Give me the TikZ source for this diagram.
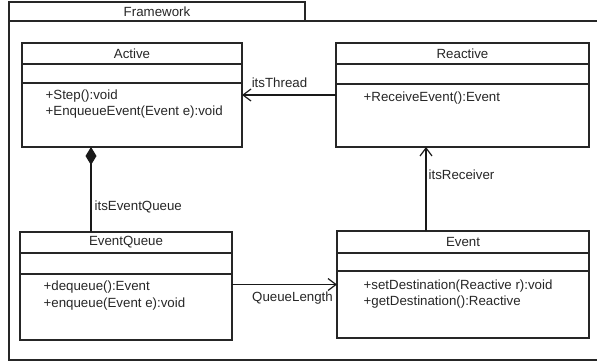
\documentclass[tikz,border=0pt]{standalone}
\usepackage{fontspec}
\setmainfont{Liberation Sans}
\usetikzlibrary{arrows.meta}
\begin{document}
\begin{tikzpicture}[x=1pt,y=-1pt,
  line width=1.3pt,
  cls/.style={draw=black!85, line width=1.4pt, rectangle, inner sep=0pt, outer sep=0pt, anchor=north west},
  lbl/.style={font=\fontsize{13.3}{16}\selectfont, text=black!85, inner sep=0pt},
  meth/.style={lbl, anchor=west},
  assoc/.style={draw=black!90, line width=1.4pt, -{Straight Barb[length=8pt,width=12pt,line width=1.2pt]}},
  comp/.style={draw=black!90, line width=1.4pt, {Diamond[length=18pt,width=11pt]}-}
]
\useasboundingbox (0,0) rectangle (597,364);
% framework package
\node[cls, minimum width=296pt, minimum height=19pt] (tab) at (9,2) {};
\node[lbl] (tabname) at (tab.center) {Framework};
\coordinate (ftr) at (598,21);
\coordinate (fbr) at (598,360);
\draw[draw=black!85, line width=1.4pt] (ftr) -- (tab.south west) -- (9,360) -- (fbr);
% Active
\node[cls, minimum width=220pt, minimum height=104pt] (active) at (22,43) {};
\draw[draw=black!85, line width=1.4pt] ([yshift=-21pt]active.north west) -- ([yshift=-21pt]active.north east);
\draw[draw=black!85, line width=1.4pt] ([yshift=-40pt]active.north west) -- ([yshift=-40pt]active.north east);
\node[lbl] (activename) at ([yshift=-10.5pt]active.north) {Active};
\node[meth] (activem1) at (45,96) {+Step():void};
\node[meth] (activem2) at (45,112) {+EnqueueEvent(Event e):void};
% Reactive
\node[cls, minimum width=253pt, minimum height=104pt] (reactive) at (336,43) {};
\draw[draw=black!85, line width=1.4pt] ([yshift=-21pt]reactive.north west) -- ([yshift=-21pt]reactive.north east);
\draw[draw=black!85, line width=1.4pt] ([yshift=-41pt]reactive.north west) -- ([yshift=-41pt]reactive.north east);
\node[lbl] (reactivename) at ([yshift=-10.5pt]reactive.north) {Reactive};
\node[meth] (reactivem1) at (363,98) {+ReceiveEvent():Event};
% EventQueue
\node[cls, minimum width=212pt, minimum height=108pt] (eventqueue) at (20,232) {};
\draw[draw=black!85, line width=1.4pt] ([yshift=-21pt]eventqueue.north west) -- ([yshift=-21pt]eventqueue.north east);
\draw[draw=black!85, line width=1.4pt] ([yshift=-42pt]eventqueue.north west) -- ([yshift=-42pt]eventqueue.north east);
\node[lbl] (eventqueuename) at ([yshift=-10.5pt]eventqueue.north) {EventQueue};
\node[meth] (eqm1) at (43,287) {+dequeue():Event};
\node[meth] (eqm2) at (43,304) {+enqueue(Event e):void};
% Event
\node[cls, minimum width=252pt, minimum height=107pt] (event) at (337,231) {};
\draw[draw=black!85, line width=1.4pt] ([yshift=-22pt]event.north west) -- ([yshift=-22pt]event.north east);
\draw[draw=black!85, line width=1.4pt] ([yshift=-40pt]event.north west) -- ([yshift=-40pt]event.north east);
\node[lbl] (eventname) at ([yshift=-11pt]event.north) {Event};
\node[meth] (evm1) at (363,286) {+setDestination(Reactive r):void};
\node[meth] (evm2) at (363,302) {+getDestination():Reactive};
% connectors
\draw[assoc] (reactive.west) -- (active.east);
\node[lbl] (itsthread) at (279.5,83) {itsThread};
\draw[assoc] (eventqueue.east |- event.west) -- (event.west);
\node[lbl] (queuelength) at (292.5,298) {QueueLength};
\draw[assoc] ([xshift=89pt]event.north west) -- ([xshift=90pt]reactive.south west);
\node[lbl, anchor=west] (itsreceiver) at (428,175) {itsReceiver};
\draw[comp] ([xshift=69pt]active.south west) -- ([xshift=71pt]eventqueue.north west);
\node[lbl, anchor=west] (itseventqueue) at (94,207) {itsEventQueue};
\end{tikzpicture}
\end{document}
